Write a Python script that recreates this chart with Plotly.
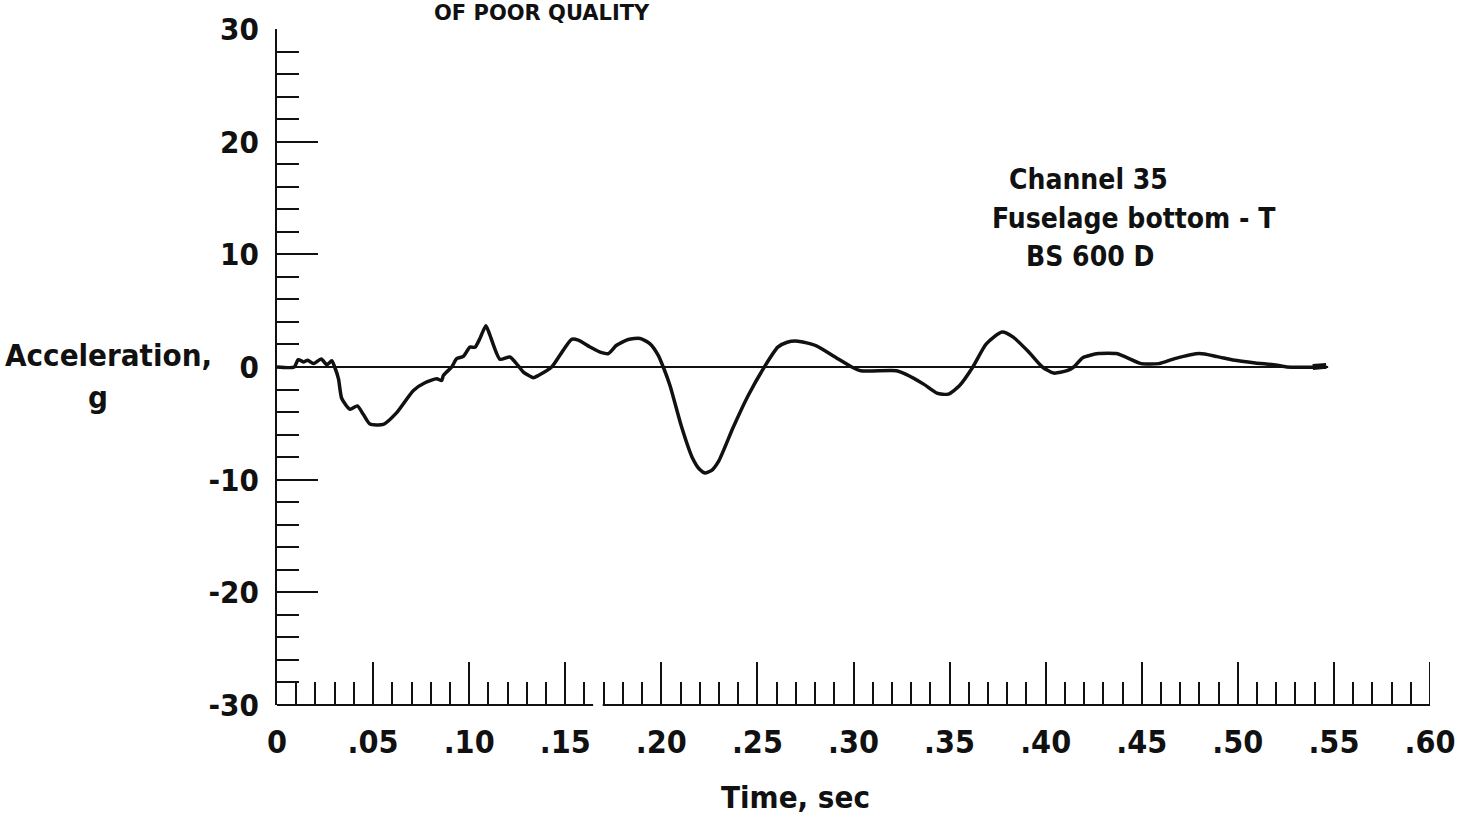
import plotly.graph_objects as go

# Channel 35 acceleration trace (time in s, acceleration in g)
time_s = [0.000, 0.009, 0.011, 0.014, 0.016, 0.019, 0.023, 0.026, 0.0285, 0.030,
          0.032, 0.0337, 0.038, 0.0418, 0.0449, 0.0484, 0.0553, 0.0623, 0.071, 0.077,
          0.0831, 0.0857, 0.0866, 0.0909, 0.0935, 0.097, 0.1004, 0.1030, 0.1056, 0.1087,
          0.1108, 0.116, 0.1212, 0.1256, 0.1282, 0.1334, 0.1360, 0.1429, 0.1472, 0.1533,
          0.1568, 0.1629, 0.169, 0.1724, 0.1767, 0.1828, 0.1889, 0.194, 0.1984, 0.201,
          0.2045, 0.2104, 0.216, 0.2200, 0.2227, 0.226, 0.230, 0.2373, 0.245, 0.2536,
          0.2606, 0.2655, 0.2711, 0.2804, 0.2921, 0.2991, 0.3038, 0.3224, 0.3271, 0.3365,
          0.3434, 0.3493, 0.3551, 0.3621, 0.3691, 0.3773, 0.3831, 0.3913, 0.3983, 0.4042,
          0.4111, 0.4146, 0.4193, 0.4275, 0.4368, 0.4415, 0.4497, 0.459, 0.4672, 0.480,
          0.4893, 0.4975, 0.5091, 0.5197, 0.5255, 0.546]
accel_g = [0.0, 0.0, 0.65, 0.45, 0.6, 0.3, 0.7, 0.2, 0.56, 0.0,
           -1.05, -2.8, -3.75, -3.45, -4.2, -5.06, -5.1, -4.05, -2.08, -1.4,
           -1.05, -1.2, -0.75, 0.0, 0.74, 0.95, 1.77, 1.75, 2.53, 3.66,
           2.83, 0.69, 0.89, 0.09, -0.45, -0.95, -0.75, 0.0, 1.04, 2.46,
           2.38, 1.78, 1.27, 1.19, 1.93, 2.44, 2.53, 2.08, 1.04, 0.0,
           -1.64, -5.24, -8.0, -9.1, -9.4, -9.2, -8.3, -5.4, -2.6, 0.0,
           1.76, 2.2, 2.29, 1.9, 0.71, 0.0, -0.33, -0.33, -0.63, -1.52,
           -2.32, -2.41, -1.67, 0.0, 2.05, 3.1, 2.65, 1.31, 0.0, -0.54,
           -0.33, 0.0, 0.83, 1.19, 1.19, 0.89, 0.3, 0.3, 0.74, 1.19,
           0.92, 0.62, 0.36, 0.18, 0.0, 0.0]

# zero reference line and the end-of-record mark
baseline_t = [0.0, 0.547]
baseline_g = [0.0, 0.0]
end_mark_t = [0.539, 0.546]
end_mark_g = [0.0, 0.1]

# the time axis line is drawn in two pieces (break just after .16)
axis_segments = [(0.0, 0.1645), (0.1695, 0.6)]
x_max = 0.6

x_tick_vals = [0, 0.05, 0.10, 0.15, 0.20, 0.25, 0.30, 0.35, 0.40, 0.45, 0.50, 0.55, 0.60]
x_tick_text = ["0", ".05", ".10", ".15", ".20", ".25", ".30", ".35", ".40", ".45", ".50", ".55", ".60"]
y_tick_vals = [-30, -20, -10, 0, 10, 20, 30]
y_tick_text = ["-30", "-20", "-10", "0", "10", "20", "30"]

FONT = "DejaVu Sans Condensed, Liberation Sans Narrow, sans-serif"
INK = "#111"
W, H = 1458, 823
L, R, T, B = 277, 28, 29, 118
PW, PH = W - L - R, H - T - B
MAJOR_TICK = 43


def px_to_paper(px, py):
    return (px - L) / PW, (H - B - py) / PH


fig = go.Figure()
fig.add_trace(go.Scatter(x=baseline_t, y=baseline_g, mode="lines",
                         line=dict(color=INK, width=2), hoverinfo="skip"))
fig.add_trace(go.Scatter(x=time_s, y=accel_g, mode="lines",
                         line=dict(color=INK, width=3.5, shape="spline", smoothing=0.6)))
fig.add_trace(go.Scatter(x=end_mark_t, y=end_mark_g, mode="lines",
                         line=dict(color=INK, width=6), hoverinfo="skip"))

for x0, x1 in axis_segments:
    fig.add_shape(type="line", xref="x", yref="paper", x0=x0, x1=x1, y0=0, y1=0,
                  line=dict(color=INK, width=2), layer="above")
# closing tall tick at the right end of the time axis
fig.add_shape(type="line", xref="x", yref="paper", x0=x_max, x1=x_max,
              y0=0, y1=MAJOR_TICK / PH, line=dict(color=INK, width=2), layer="above")

annotations = []


def label(text, px, py, size, weight="bold", family=FONT):
    ax, ay = px_to_paper(px, py)
    annotations.append(dict(text=text, x=ax, y=ay, xref="paper", yref="paper",
                            xanchor="center", yanchor="middle", showarrow=False,
                            font=dict(family=family, size=size, color=INK, weight=weight)))


label("Acceleration,", 108, 355, 31)
label("g", 98, 397, 31)
label("Time, sec", 795, 797, 31)
label("Channel 35", 1088, 180, 28)
label("Fuselage bottom - T", 1134, 218, 28)
label("BS 600 D", 1090, 256, 28)
label("OF POOR QUALITY", 542, 13, 21, family="DejaVu Sans, sans-serif")

fig.update_layout(
    width=W, height=H,
    margin=dict(l=L, r=R, t=T, b=B, autoexpand=False),
    paper_bgcolor="white", plot_bgcolor="white",
    showlegend=False,
    annotations=annotations,
    xaxis=dict(range=[0, x_max], showgrid=False, zeroline=False, automargin=False,
               showline=False,
               ticks="inside", ticklen=MAJOR_TICK, tickwidth=2, tickcolor=INK,
               tickvals=x_tick_vals, ticktext=x_tick_text,
               ticklabelstandoff=15,
               tickfont=dict(family=FONT, size=32, color=INK, weight="bold"),
               minor=dict(dtick=0.01, tick0=0, ticks="inside", ticklen=23,
                          tickwidth=1.8, tickcolor=INK, showgrid=False)),
    yaxis=dict(range=[-30, 30], showgrid=False, zeroline=False, automargin=False,
               showline=True, linecolor=INK, linewidth=2,
               ticks="inside", ticklen=41, tickwidth=2, tickcolor=INK,
               tickvals=y_tick_vals, ticktext=y_tick_text,
               ticklabelstandoff=10,
               tickfont=dict(family=FONT, size=31, color=INK, weight="bold"),
               minor=dict(dtick=2, tick0=0, ticks="inside", ticklen=22,
                          tickwidth=1.8, tickcolor=INK, showgrid=False)),
)

fig.write_html("out.html")
